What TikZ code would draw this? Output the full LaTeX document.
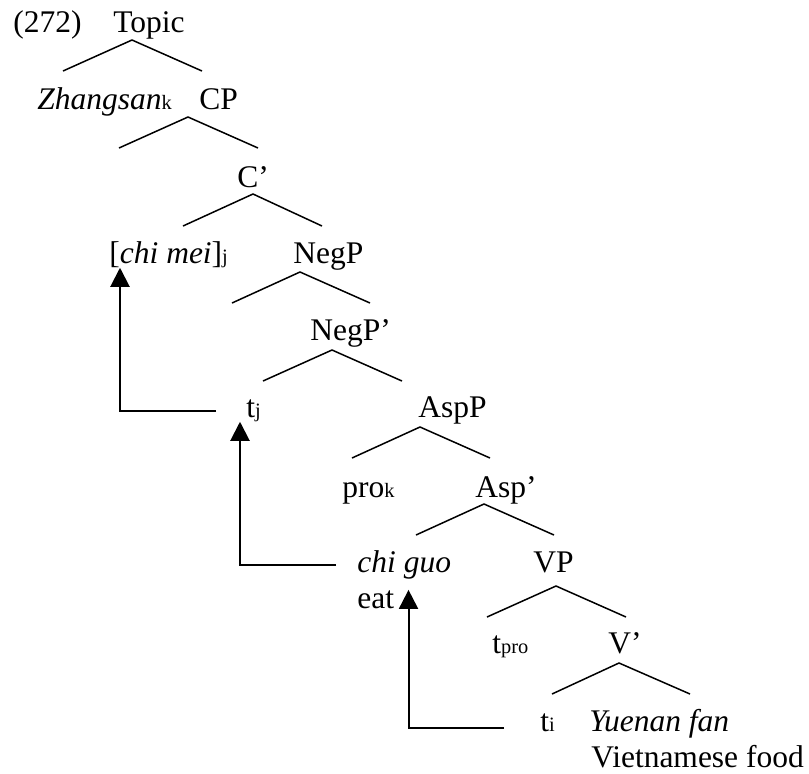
\documentclass[tikz,border=0pt]{standalone}
\usepackage{fontspec}
\setmainfont{Liberation Serif}
\usetikzlibrary{arrows.meta}
\newcommand{\idx}[1]{{\fontsize{10.2}{12}\selectfont #1}}

\begin{document}
\begin{tikzpicture}[x=0.5pt, y=-0.5pt, font=\fontsize{15.75}{18}\selectfont,
    lbl/.style={anchor=base west, inner sep=0pt},
    branch/.style={line width=0.75pt},
    mvarrow/.style={-{Triangle[length=9.5pt, width=9.5pt]}, line width=1pt}]
    \useasboundingbox (0,0) rectangle (809,773);

    % Labels of the tree
    \node[lbl] (ex) at (13,32) {(272)};
    \node[lbl] (topic) at (113,32) {Topic};
    \node[lbl] (zhangsan) at (37,109) {\textit{Zhangsan}\idx{k}};
    \node[lbl] (cp) at (199,109) {CP};
    \node[lbl] (cbar) at (237,187) {C’};
    \node[lbl] (chimei) at (109,263) {[\textit{chi mei}]\idx{j}};
    \node[lbl] (negp) at (293,263) {NegP};
    \node[lbl] (negbar) at (310,340) {NegP’};
    \node[lbl] (tj) at (246,417) {t\idx{j}};
    \node[lbl] (aspp) at (418,417) {AspP};
    \node[lbl] (prok) at (342,497) {pro\idx{k}};
    \node[lbl] (aspbar) at (475,497) {Asp’};
    \node[lbl] (chiguo) at (357,572) {\textit{chi guo}};
    \node[lbl] (eat) at (357,608) {eat};
    \node[lbl] (vp) at (533,572) {VP};
    \node[lbl] (tpro) at (492,653) {t\idx{pro}};
    \node[lbl] (vbar) at (608,653) {V’};
    \node[lbl] (ti) at (540,731) {t\idx{i}};
    \node[lbl] (yuenan) at (589,731) {\textit{Yuenan fan}};
    \node[lbl] (vfood) at (591,767) {Vietnamese food};

    % Branches
    \draw[branch] (63,71) -- (132,40) -- (202,71);
    \draw[branch] (119,148) -- (188,117) -- (258,148);
    \draw[branch] (183,226) -- (253,194) -- (322,226);
    \draw[branch] (232,303) -- (300,272) -- (370,303);
    \draw[branch] (263,381) -- (332,350) -- (402,381);
    \draw[branch] (352,458) -- (420,427) -- (490,458);
    \draw[branch] (416,535) -- (484,504) -- (554,535);
    \draw[branch] (487,617) -- (556,586) -- (626,617);
    \draw[branch] (552,694) -- (619,663) -- (690,694);

    % Movement arrows
    \coordinate (tj-mv) at (216,411);
    \coordinate (chiguo-mv) at (336,565);
    \coordinate (ti-mv) at (504,728);
    \draw[mvarrow] (tj-mv) -| ([xshift=5.5pt]chimei.south west);
    \draw[mvarrow] (chiguo-mv) -| ([xshift=-3pt]tj.south west);
    \draw[mvarrow] (ti-mv) -| ([xshift=7pt]eat.north east);
\end{tikzpicture}
\end{document}
